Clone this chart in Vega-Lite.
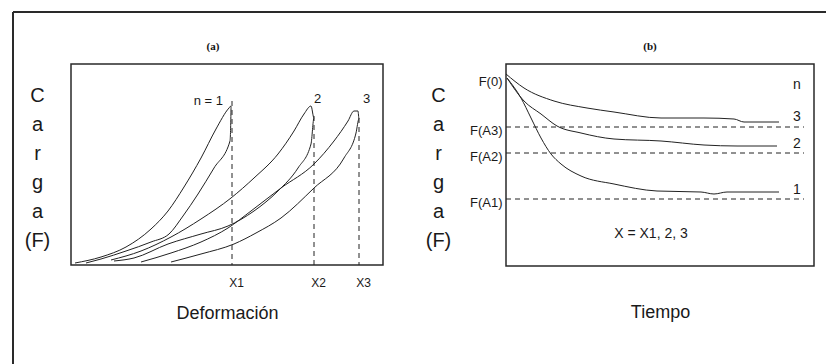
{
  "$schema": "https://vega.github.io/schema/vega-lite/v6.json",
  "padding": {"left": 11, "top": 10, "right": 0, "bottom": 0},
  "background": "white",
  "config": {
    "view": {"stroke": "#2a2a2a", "strokeWidth": 1.5},
    "font": "Liberation Sans",
    "text": {"font": "Liberation Sans", "color": "#1a1a1a"}
  },
  "datasets": {
    "loops": [
      {"loop": 1, "i": 0, "x": 4, "y": 2}, {"loop": 1, "i": 1, "x": 30, "y": 8}, {"loop": 1, "i": 2, "x": 55, "y": 18}, {"loop": 1, "i": 3, "x": 80, "y": 36}, {"loop": 1, "i": 4, "x": 97, "y": 54}, {"loop": 1, "i": 5, "x": 113, "y": 78}, {"loop": 1, "i": 6, "x": 130, "y": 107}, {"loop": 1, "i": 7, "x": 145, "y": 136}, {"loop": 1, "i": 8, "x": 158, "y": 157}, {"loop": 1, "i": 9, "x": 160, "y": 159},
      {"loop": 1, "i": 10, "x": 160, "y": 156}, {"loop": 1, "i": 11, "x": 159, "y": 124}, {"loop": 1, "i": 12, "x": 143, "y": 97}, {"loop": 1, "i": 13, "x": 127, "y": 71}, {"loop": 1, "i": 14, "x": 112, "y": 49}, {"loop": 1, "i": 15, "x": 98, "y": 31}, {"loop": 1, "i": 16, "x": 80, "y": 23}, {"loop": 1, "i": 17, "x": 55, "y": 14}, {"loop": 1, "i": 18, "x": 30, "y": 6}, {"loop": 1, "i": 19, "x": 15, "y": 2},
      {"loop": 2, "i": 0, "x": 40, "y": 5}, {"loop": 2, "i": 1, "x": 70, "y": 14}, {"loop": 2, "i": 2, "x": 100, "y": 28}, {"loop": 2, "i": 3, "x": 130, "y": 46}, {"loop": 2, "i": 4, "x": 160, "y": 67}, {"loop": 2, "i": 5, "x": 183, "y": 87}, {"loop": 2, "i": 6, "x": 207, "y": 111}, {"loop": 2, "i": 7, "x": 223, "y": 134}, {"loop": 2, "i": 8, "x": 233, "y": 151}, {"loop": 2, "i": 9, "x": 240, "y": 159},
      {"loop": 2, "i": 10, "x": 243, "y": 147}, {"loop": 2, "i": 11, "x": 240, "y": 121}, {"loop": 2, "i": 12, "x": 227, "y": 97}, {"loop": 2, "i": 13, "x": 207, "y": 74}, {"loop": 2, "i": 14, "x": 183, "y": 54}, {"loop": 2, "i": 15, "x": 157, "y": 39}, {"loop": 2, "i": 16, "x": 130, "y": 31}, {"loop": 2, "i": 17, "x": 97, "y": 21}, {"loop": 2, "i": 18, "x": 63, "y": 7}, {"loop": 2, "i": 19, "x": 43, "y": 4},
      {"loop": 3, "i": 0, "x": 70, "y": 3}, {"loop": 3, "i": 1, "x": 100, "y": 12}, {"loop": 3, "i": 2, "x": 130, "y": 23}, {"loop": 3, "i": 3, "x": 157, "y": 37}, {"loop": 3, "i": 4, "x": 180, "y": 54}, {"loop": 3, "i": 5, "x": 210, "y": 77}, {"loop": 3, "i": 6, "x": 243, "y": 101}, {"loop": 3, "i": 7, "x": 263, "y": 124}, {"loop": 3, "i": 8, "x": 277, "y": 144}, {"loop": 3, "i": 9, "x": 283, "y": 154}, {"loop": 3, "i": 10, "x": 287, "y": 154},
      {"loop": 3, "i": 11, "x": 288, "y": 146}, {"loop": 3, "i": 12, "x": 285, "y": 132}, {"loop": 3, "i": 13, "x": 273, "y": 107}, {"loop": 3, "i": 14, "x": 243, "y": 77}, {"loop": 3, "i": 15, "x": 210, "y": 47}, {"loop": 3, "i": 16, "x": 185, "y": 32}, {"loop": 3, "i": 17, "x": 163, "y": 21}, {"loop": 3, "i": 18, "x": 130, "y": 11}, {"loop": 3, "i": 19, "x": 100, "y": 3}
    ],
    "limits": [
      {"label": "X1", "x": 161, "y": 164},
      {"label": "X2", "x": 243, "y": 149},
      {"label": "X3", "x": 288, "y": 147}
    ],
    "relax": [
      {"n": 3, "t": 0, "f": 192}, {"n": 3, "t": 18, "f": 178}, {"n": 3, "t": 48, "f": 165}, {"n": 3, "t": 81, "f": 158}, {"n": 3, "t": 108, "f": 154}, {"n": 3, "t": 155, "f": 148}, {"n": 3, "t": 198, "f": 148}, {"n": 3, "t": 228, "f": 147}, {"n": 3, "t": 238, "f": 144}, {"n": 3, "t": 273, "f": 144},
      {"n": 2, "t": 1, "f": 188}, {"n": 2, "t": 18, "f": 165}, {"n": 2, "t": 35, "f": 152}, {"n": 2, "t": 51, "f": 140}, {"n": 2, "t": 75, "f": 133}, {"n": 2, "t": 108, "f": 127}, {"n": 2, "t": 155, "f": 125}, {"n": 2, "t": 198, "f": 121}, {"n": 2, "t": 231, "f": 120}, {"n": 2, "t": 271, "f": 120},
      {"n": 1, "t": 1, "f": 188}, {"n": 1, "t": 15, "f": 168}, {"n": 1, "t": 25, "f": 148}, {"n": 1, "t": 35, "f": 128}, {"n": 1, "t": 45, "f": 112}, {"n": 1, "t": 55, "f": 102}, {"n": 1, "t": 75, "f": 90}, {"n": 1, "t": 108, "f": 82}, {"n": 1, "t": 151, "f": 75}, {"n": 1, "t": 195, "f": 74}, {"n": 1, "t": 208, "f": 72}, {"n": 1, "t": 221, "f": 74}, {"n": 1, "t": 273, "f": 74}
    ],
    "asym": [
      {"label": "F(A3)", "f": 139},
      {"label": "F(A2)", "f": 113},
      {"label": "F(A1)", "f": 67}
    ],
    "one": [{}]
  },
  "hconcat": [
    {
      "width": 312,
      "height": 201,
      "layer": [
        {
          "data": {"name": "loops"},
          "mark": {"type": "line", "stroke": "#222", "strokeWidth": 1, "interpolate": "monotone"},
          "encoding": {
            "x": {"field": "x", "type": "quantitative", "scale": {"domain": [0, 312], "nice": false, "zero": false},
              "axis": {"title": "Deformación", "values": [161, 243, 288], "labelExpr": "datum.value == 161 ? 'X1' : datum.value == 243 ? 'X2' : 'X3'", "ticks": false, "domain": false, "grid": false, "labelFlush": false, "labelFontSize": 12, "labelPadding": 12, "labelOffset": 4, "labelColor": "#1a1a1a", "labelFont": "Liberation Sans", "titleFontSize": 18, "titleFontWeight": "normal", "titlePadding": 16, "titleColor": "#1a1a1a", "titleFont": "Liberation Sans"}},
            "y": {"field": "y", "type": "quantitative", "scale": {"domain": [0, 201], "nice": false, "zero": false},
              "axis": {"title": ["C", "a", "r", "g", "a", "(F)"], "titleAngle": 0, "titleX": -34, "titleY": 37, "titleAlign": "center", "titleBaseline": "alphabetic", "titleLineHeight": 29, "titleFontSize": 20, "titleFontWeight": "normal", "titleColor": "#1a1a1a", "titleFont": "Liberation Sans", "labels": false, "ticks": false, "domain": false, "grid": false}},
            "detail": {"field": "loop", "type": "nominal"},
            "order": {"field": "i", "type": "quantitative"}
          }
        },
        {
          "data": {"name": "limits"},
          "mark": {"type": "rule", "stroke": "#222", "strokeWidth": 1, "strokeDash": [5, 4]},
          "encoding": {
            "x": {"field": "x", "type": "quantitative"},
            "y": {"field": "y", "type": "quantitative"},
            "y2": {"datum": 0}
          }
        },
        {
          "data": {"name": "one"},
          "mark": {"type": "rule", "stroke": "#2a2a2a", "strokeWidth": 2},
          "encoding": {
            "x": {"datum": -58, "type": "quantitative"},
            "x2": {"datum": 756},
            "y": {"datum": 253, "type": "quantitative"}
          }
        },
        {
          "data": {"name": "one"},
          "mark": {"type": "rule", "stroke": "#2a2a2a", "strokeWidth": 2},
          "encoding": {
            "x": {"datum": -58, "type": "quantitative"},
            "y": {"datum": 253, "type": "quantitative"},
            "y2": {"datum": -100}
          }
        },
        {
          "data": {"name": "one"},
          "mark": {"type": "text", "text": "(a)", "align": "center", "baseline": "alphabetic", "font": "Liberation Serif", "fontWeight": "bold", "fontSize": 11, "color": "#111"},
          "encoding": {"x": {"datum": 142, "type": "quantitative"}, "y": {"datum": 215, "type": "quantitative"}}
        },
        {
          "data": {"name": "one"},
          "mark": {"type": "text", "text": "n = 1", "align": "right", "baseline": "alphabetic", "fontSize": 13},
          "encoding": {"x": {"datum": 152, "type": "quantitative"}, "y": {"datum": 160, "type": "quantitative"}}
        },
        {
          "data": {"name": "one"},
          "mark": {"type": "text", "text": "2", "align": "left", "baseline": "alphabetic", "fontSize": 13},
          "encoding": {"x": {"datum": 243, "type": "quantitative"}, "y": {"datum": 162, "type": "quantitative"}}
        },
        {
          "data": {"name": "one"},
          "mark": {"type": "text", "text": "3", "align": "left", "baseline": "alphabetic", "fontSize": 13},
          "encoding": {"x": {"datum": 292, "type": "quantitative"}, "y": {"datum": 162, "type": "quantitative"}}
        }
      ]
    },
    {
      "width": 308,
      "height": 202,
      "layer": [
        {
          "data": {"name": "relax"},
          "mark": {"type": "line", "stroke": "#222", "strokeWidth": 1, "interpolate": "monotone"},
          "encoding": {
            "x": {"field": "t", "type": "quantitative", "scale": {"domain": [0, 308], "nice": false, "zero": false},
              "axis": {"title": "Tiempo", "labels": false, "ticks": false, "domain": false, "grid": false, "titleFontSize": 18, "titleFontWeight": "normal", "titlePadding": 37, "titleColor": "#1a1a1a", "titleFont": "Liberation Sans"}},
            "y": {"field": "f", "type": "quantitative", "scale": {"domain": [0, 202], "nice": false, "zero": false},
              "axis": {"title": ["C", "a", "r", "g", "a", "(F)"], "values": [188, 139, 113, 67], "labelExpr": "datum.value == 188 ? 'F(0)' : datum.value == 139 ? 'F(A3)' : datum.value == 113 ? 'F(A2)' : 'F(A1)'", "labelOffset": 3, "labelPadding": 4, "labelFontSize": 13, "labelColor": "#1a1a1a", "labelFont": "Liberation Sans", "labelFlush": false, "ticks": false, "domain": false, "grid": false, "titleAngle": 0, "titleX": -68, "titleY": 37, "titleAlign": "center", "titleBaseline": "alphabetic", "titleLineHeight": 29, "titleFontSize": 20, "titleFontWeight": "normal", "titleColor": "#1a1a1a", "titleFont": "Liberation Sans"}},
            "detail": {"field": "n", "type": "nominal"}
          }
        },
        {
          "data": {"name": "asym"},
          "mark": {"type": "rule", "stroke": "#222", "strokeWidth": 1, "strokeDash": [5, 4]},
          "encoding": {
            "y": {"field": "f", "type": "quantitative"},
            "x": {"datum": 0, "type": "quantitative"},
            "x2": {"datum": 298}
          }
        },
        {
          "data": {"name": "one"},
          "mark": {"type": "text", "text": "(b)", "align": "center", "baseline": "alphabetic", "font": "Liberation Serif", "fontWeight": "bold", "fontSize": 11, "color": "#111"},
          "encoding": {"x": {"datum": 144, "type": "quantitative"}, "y": {"datum": 216, "type": "quantitative"}}
        },
        {
          "data": {"name": "one"},
          "mark": {"type": "text", "text": "n", "align": "center", "baseline": "alphabetic", "fontSize": 14},
          "encoding": {"x": {"datum": 291, "type": "quantitative"}, "y": {"datum": 177, "type": "quantitative"}}
        },
        {
          "data": {"name": "one"},
          "mark": {"type": "text", "text": "3", "align": "center", "baseline": "alphabetic", "fontSize": 14},
          "encoding": {"x": {"datum": 291, "type": "quantitative"}, "y": {"datum": 145, "type": "quantitative"}}
        },
        {
          "data": {"name": "one"},
          "mark": {"type": "text", "text": "2", "align": "center", "baseline": "alphabetic", "fontSize": 14},
          "encoding": {"x": {"datum": 291, "type": "quantitative"}, "y": {"datum": 118, "type": "quantitative"}}
        },
        {
          "data": {"name": "one"},
          "mark": {"type": "text", "text": "1", "align": "center", "baseline": "alphabetic", "fontSize": 14},
          "encoding": {"x": {"datum": 291, "type": "quantitative"}, "y": {"datum": 72, "type": "quantitative"}}
        },
        {
          "data": {"name": "one"},
          "mark": {"type": "text", "text": "X = X1, 2, 3", "align": "center", "baseline": "middle", "fontSize": 14},
          "encoding": {"x": {"datum": 145, "type": "quantitative"}, "y": {"datum": 32, "type": "quantitative"}}
        }
      ]
    }
  ],
  "spacing": 123,
  "bounds": "flush"
}
